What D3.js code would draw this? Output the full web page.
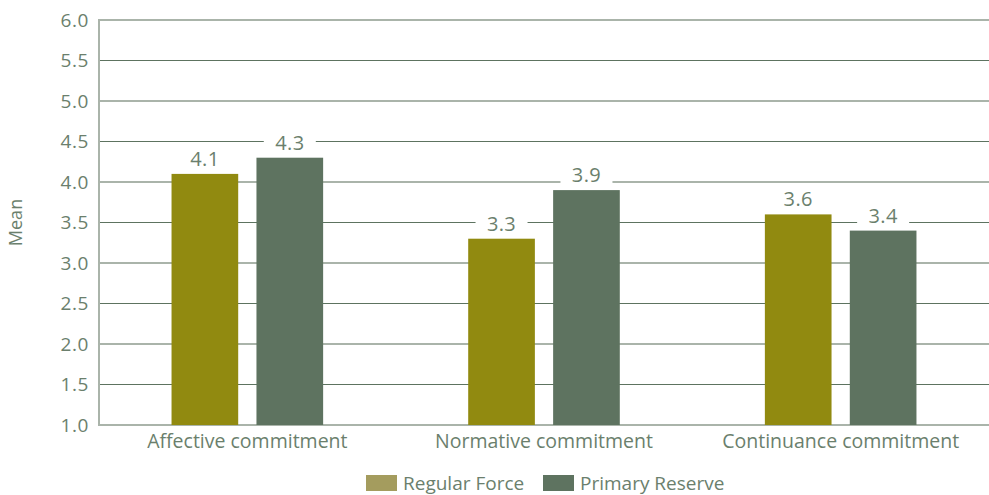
<!DOCTYPE html>
<html>
<head>
<meta charset="utf-8">
<script src="https://cdn.jsdelivr.net/npm/d3@7"></script>
<style>
  html, body { margin: 0; padding: 0; background: #fff; }
  svg { display: block; font-family: "Open Sans", "Noto Sans", sans-serif; }
</style>
</head>
<body>
<svg id="chart" width="989" height="495"></svg>
<script>
// Commitment means by component
const categories = ["Affective commitment", "Normative commitment", "Continuance commitment"];
const seriesNames = ["Regular Force", "Primary Reserve"];
const regularForce = [4.1, 3.3, 3.6];
const primaryReserve = [4.3, 3.9, 3.4];
const yTicks = [1.0, 1.5, 2.0, 2.5, 3.0, 3.5, 4.0, 4.5, 5.0, 5.5, 6.0];

const barColors = ["#918a10", "#5e7360"];
const legendColors = ["#a49c5e", "#5e7360"];
const textColor = "#6b7f6d";
const lightGrid = "#aab4aa";
const darkGrid = "#5d7360";

const svg = d3.select("#chart");
const margin = { left: 99, right: 0, top: 20, bottom: 70 };
const W = 989, H = 495;

const y = d3.scaleLinear().domain([1, 6]).range([H - margin.bottom, margin.top]);
const x0 = d3.scaleBand().domain(categories)
  .range([margin.left, W - margin.right])
  .paddingInner(0.489).paddingOuter(0.2445);
const x1 = d3.scaleBand().domain(seriesNames)
  .range([0, x0.bandwidth()]).paddingInner(0.215).paddingOuter(0);

const rows = categories.map((c, i) => ({
  category: c,
  values: [
    { series: seriesNames[0], value: regularForce[i] },
    { series: seriesNames[1], value: primaryReserve[i] }
  ]
}));

// Horizontal grid: whole units light and thick, half units dark and thin
const isWhole = v => Math.abs(v - Math.round(v)) < 1e-9;
svg.append("g").selectAll("line").data(yTicks).join("line")
  .attr("x1", margin.left).attr("x2", W)
  .attr("y1", d => y(d)).attr("y2", d => y(d))
  .attr("stroke", d => isWhole(d) ? lightGrid : darkGrid)
  .attr("stroke-width", d => isWhole(d) ? 2 : 1.2);

// Vertical axis line
svg.append("line")
  .attr("x1", margin.left).attr("x2", margin.left)
  .attr("y1", y(6) - 1).attr("y2", y(1) + 1)
  .attr("stroke", lightGrid).attr("stroke-width", 2);

// Y axis labels
const yAxis = d3.axisLeft(y).tickValues(yTicks).tickFormat(d3.format(".1f")).tickSize(0).tickPadding(10);
const gy = svg.append("g").attr("transform", `translate(${margin.left},0)`).call(yAxis);
gy.select(".domain").remove();
gy.selectAll("text").attr("fill", textColor).style("font-size", "19px")
  .style("letter-spacing", "0.6px")
  .style("font-family", "'Open Sans', sans-serif");

// Axis title
svg.append("text")
  .attr("transform", `translate(22,${(y(1) + y(6)) / 2}) rotate(-90)`)
  .attr("text-anchor", "middle")
  .attr("fill", textColor).style("font-size", "18px")
  .text("Mean");

// Bars
const groups = svg.append("g").selectAll("g").data(rows).join("g")
  .attr("transform", d => `translate(${x0(d.category)},0)`);

groups.selectAll("rect").data(d => d.values).join("rect")
  .attr("x", d => x1(d.series))
  .attr("y", d => y(d.value))
  .attr("width", x1.bandwidth())
  .attr("height", d => y(1) - y(d.value))
  .attr("fill", (d, i) => barColors[i]);

// Value labels with white backing
const labels = groups.selectAll("g.lbl").data(d => d.values).join("g")
  .attr("class", "lbl")
  .attr("transform", d => `translate(${x1(d.series) + x1.bandwidth() / 2},${y(d.value) - 8})`);
labels.append("rect")
  .attr("x", -26).attr("y", -20).attr("width", 52).attr("height", 23)
  .attr("fill", "#fff");
labels.append("text")
  .attr("text-anchor", "middle")
  .attr("fill", textColor).style("font-size", "20px")
  .style("letter-spacing", "0.4px")
  .text(d => d3.format(".1f")(d.value));

// Category labels
const xAxis = d3.axisBottom(x0).tickSize(0).tickPadding(9.5);
const gx = svg.append("g").attr("transform", `translate(0,${y(1)})`).call(xAxis);
gx.select(".domain").remove();
gx.selectAll("text").attr("fill", textColor).style("font-size", "19.5px")
  .style("font-family", "'Open Sans', sans-serif");

// Legend
const legend = svg.append("g").attr("transform", "translate(366,475)");
const legendOffsets = [0, 177];
seriesNames.forEach((name, i) => {
  const g = legend.append("g").attr("transform", `translate(${legendOffsets[i]},0)`);
  g.append("rect").attr("width", 31).attr("height", 16).attr("fill", legendColors[i]);
  g.append("text").attr("x", 37).attr("y", 15)
    .attr("fill", textColor).style("font-size", "19px").text(name);
});
</script>
</body>
</html>
